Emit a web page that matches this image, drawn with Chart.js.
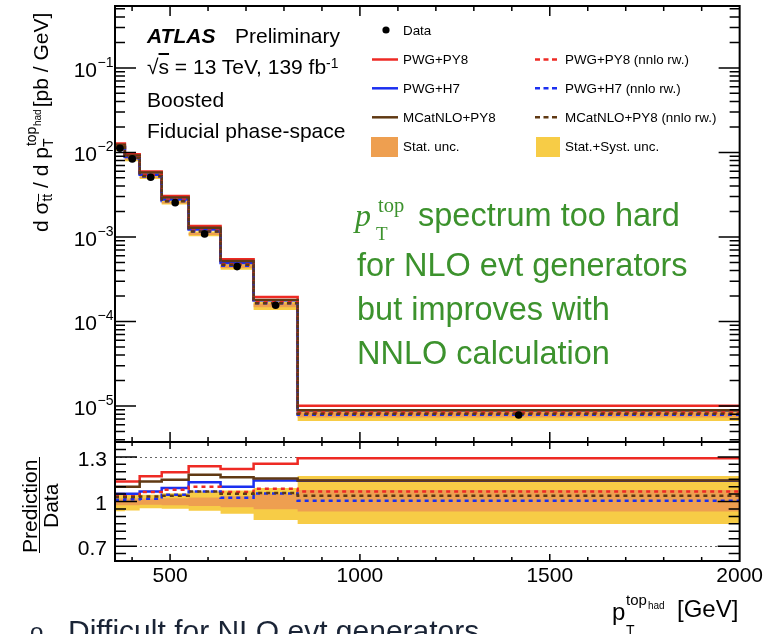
<!DOCTYPE html>
<html>
<head>
<meta charset="utf-8">
<script src="https://cdn.jsdelivr.net/npm/chart.js@4.4.1/dist/chart.umd.min.js"></script>
<style>
  html, body { margin: 0; padding: 0; background: #fff; overflow: hidden; }
  #wrap { position: relative; width: 766px; height: 634px; font-family: 'Liberation Sans', Arial, sans-serif; }
  #chart { position: absolute; left: 0; top: 0; }
  .t { position: absolute; white-space: nowrap; line-height: 1; color: #000; font-size: 21px; }
  .lg { position: absolute; white-space: nowrap; line-height: 1; color: #000; font-size: 13.4px; left: 403px; }
  .lg2 { left: 565px; }
  .g { position: absolute; white-space: nowrap; line-height: 1; color: #3c922d; font-size: 32.5px; }
  .sup { position: relative; font-size: 0.66em; }
  .rot { position: absolute; white-space: nowrap; line-height: 1; font-size: 21px; transform-origin: 0 0; transform: rotate(-90deg); }
  .ss { display: inline-block; position: relative; width: 34px; height: 21px; }
  .ss span { position: absolute; line-height: 1; }
  svg { position: absolute; left: 0; top: 0; }
</style>
</head>
<body>
<div id="wrap">
  <canvas id="chart" width="766" height="634"></canvas>

  <!-- ATLAS label -->
  <div class="t" style="left:147px;top:25px;font-weight:bold;font-style:italic">ATLAS</div>
  <div class="t" style="left:235px;top:25px">Preliminary</div>
  <div class="t" style="left:147px;top:56px">√<span style="text-decoration:overline">s</span> = 13 TeV, 139 fb<span class="sup" style="top:-0.45em">-1</span></div>
  <div class="t" style="left:147px;top:89px">Boosted</div>
  <div class="t" style="left:147px;top:120px">Fiducial phase-space</div>

  <!-- legend -->
  <svg width="766" height="170">
    <circle cx="386" cy="30" r="3.6" fill="#000"/>
    <line x1="372" x2="398" y1="59.5" y2="59.5" stroke="#ee2a24" stroke-width="2.5"/>
    <line x1="372" x2="398" y1="88.3" y2="88.3" stroke="#1b2ff0" stroke-width="2.5"/>
    <line x1="372" x2="398" y1="117.3" y2="117.3" stroke="#603913" stroke-width="2.5"/>
    <rect x="371" y="137" width="27" height="20" fill="#ee9f50"/>
    <line x1="535" x2="558" y1="59.5" y2="59.5" stroke="#ee2a24" stroke-width="2.5" stroke-dasharray="5 3.5"/>
    <line x1="535" x2="558" y1="88.3" y2="88.3" stroke="#1b2ff0" stroke-width="2.5" stroke-dasharray="5 3.5"/>
    <line x1="535" x2="558" y1="117.3" y2="117.3" stroke="#603913" stroke-width="2.5" stroke-dasharray="5 3.5"/>
    <rect x="536" y="137" width="24" height="20" fill="#f7cc46"/>
  </svg>
  <div class="lg" style="top:23.5px">Data</div>
  <div class="lg" style="top:53px">PWG+PY8</div>
  <div class="lg" style="top:82px">PWG+H7</div>
  <div class="lg" style="top:111px">MCatNLO+PY8</div>
  <div class="lg" style="top:140px">Stat. unc.</div>
  <div class="lg lg2" style="top:53px">PWG+PY8 (nnlo rw.)</div>
  <div class="lg lg2" style="top:82px">PWG+H7 (nnlo rw.)</div>
  <div class="lg lg2" style="top:111px">MCatNLO+PY8 (nnlo rw.)</div>
  <div class="lg lg2" style="top:140px">Stat.+Syst. unc.</div>

  <!-- green comment -->
  <div class="g" style="left:355px;top:199px;font-family:'Liberation Serif',serif;font-style:italic;font-size:32px">p</div>
  <div class="g" style="left:376px;top:224px;font-family:'Liberation Serif',serif;font-size:19px">T</div>
  <div class="g" style="left:378px;top:195px;font-family:'Liberation Serif',serif;font-size:20.5px">top</div>
  <div class="g" style="left:418px;top:199px">spectrum too hard</div>
  <div class="g" style="left:357px;top:249px">for NLO evt generators</div>
  <div class="g" style="left:357px;top:293px">but improves with</div>
  <div class="g" style="left:357px;top:337px">NNLO calculation</div>

  <!-- y axis titles -->
  <div class="rot" style="left:27px;top:232px">d σ<span class="sup" style="top:0.32em;text-decoration:overline">tt</span> / d p<span class="ss"><span style="left:0;top:14px;font-size:14px">T</span><span style="left:1px;top:-3px;font-size:14px">top</span><span style="left:21px;top:5.5px;font-size:10px">had</span></span> [pb / GeV]</div>
  <div class="rot" style="left:19px;top:553px">Prediction</div>
  <div class="rot" style="left:40px;top:528px">Data</div>
  <div style="position:absolute;left:38.5px;top:457px;width:1.6px;height:96px;background:#000"></div>

  <!-- x axis title -->
  <div class="t" style="left:612px;top:600px;font-size:24px">p</div>
  <div class="t" style="left:626px;top:623px;font-size:14px">T</div>
  <div class="t" style="left:626px;top:592px;font-size:15px">top</div>
  <div class="t" style="left:648px;top:600.5px;font-size:10px">had</div>
  <div class="t" style="left:677px;top:597px;font-size:24px">[GeV]</div>

  <!-- slide text below the figure -->
  <div class="t" style="left:30px;top:620px;font-size:24px;color:#1a2436">o</div>
  <div class="t" style="left:68px;top:616px;font-size:30px;color:#1a2436">Difficult for NLO evt generators</div>
</div>

<script>
// bin edges of the hadronic top pT (GeV)
const binEdges = [355, 381, 420, 478, 549, 633, 720, 836, 2000];
// measured cross-section [pb/GeV]
const dataVals = [0.01122, 0.00838, 0.00509, 0.002546, 0.001086, 0.000446, 0.0001556, 0.00000782];

// Prediction / Data
const ratioPwgPy8 = [1.135, 1.135, 1.169, 1.196, 1.237, 1.219, 1.253, 1.29];
const ratioPwgH7 = [1.052, 1.052, 1.068, 1.09, 1.129, 1.10, 1.142, 1.14];
const ratioMcPy8 = [1.10, 1.10, 1.135, 1.147, 1.18, 1.163, 1.154, 1.142];
const ratioPwgPy8Nnlo = [1.036, 1.036, 1.064, 1.079, 1.10, 1.064, 1.086, 1.068];
const ratioPwgH7Nnlo = [1.012, 1.015, 1.018, 1.045, 1.068, 1.025, 1.054, 1.005];
const ratioMcPy8Nnlo = [1.03, 1.03, 1.034, 1.038, 1.068, 1.052, 1.057, 1.038];

// relative uncertainty bands (lower / upper edge)
const statLo = [0.975, 0.975, 0.978, 0.975, 0.97, 0.962, 0.948, 0.932];
const statHi = [1.02, 1.02, 1.02, 1.022, 1.027, 1.035, 1.05, 1.078];
const totLo = [0.935, 0.94, 0.955, 0.952, 0.937, 0.917, 0.876, 0.849];
const totHi = [1.06, 1.045, 1.045, 1.056, 1.068, 1.074, 1.09, 1.172];

const xTickVals = [500, 1000, 1500, 2000];
const yDecades = [-1, -2, -3, -4, -5];
const ratioTickVals = [1.3, 1, 0.7];
const ratioTickLabels = ['1.3', '1', '0.7'];

const RED = '#ee2a24', BLUE = '#1b2ff0', BROWN = '#603913';
const ORANGE = '#ee9f50', YELLOW = '#f7cc46';

const centers = binEdges.slice(0, -1).map((e, i) => (e + binEdges[i + 1]) / 2);

// histogram as step points: value of bin i held from edge i to edge i+1
function steps(vals) {
    const pts = vals.map((v, i) => ({ x: binEdges[i], y: v }));
    pts.push({ x: binEdges[binEdges.length - 1], y: vals[vals.length - 1] });
    return pts;
}
function timesData(r) {
    return r.map((v, i) => v * dataVals[i]);
}

const series = [
    { r: ratioPwgPy8, color: RED, dash: [], order: 9 },
    { r: ratioPwgH7, color: BLUE, dash: [], order: 8 },
    { r: ratioMcPy8, color: BROWN, dash: [], order: 7 },
    { r: ratioPwgPy8Nnlo, color: RED, dash: [4, 4], order: 6 },
    { r: ratioPwgH7Nnlo, color: BLUE, dash: [4, 4], order: 5 },
    { r: ratioMcPy8Nnlo, color: BROWN, dash: [4, 4], order: 4 },
];

function band(axis, lo, hi, color, order) {
    const base = { yAxisID: axis, borderColor: 'rgba(0,0,0,0)', borderWidth: 0, pointRadius: 0, stepped: true, order };
    return [
        Object.assign({ data: steps(lo), fill: false }, base),
        Object.assign({ data: steps(hi), fill: '-1', backgroundColor: color }, base),
    ];
}
function lines(axis, upper) {
    return series.map(s => ({
        yAxisID: axis,
        data: steps(upper ? timesData(s.r) : s.r),
        borderColor: s.color,
        borderDash: s.dash,
        borderWidth: 2.5,
        pointRadius: 0,
        stepped: true,
        fill: false,
        order: s.order,
    }));
}

const datasets = [
    ...band('y', timesData(totLo), timesData(totHi), YELLOW, 20),
    ...band('y', timesData(statLo), timesData(statHi), ORANGE, 15),
    ...lines('y', true),
    {
        yAxisID: 'y',
        data: centers.map((x, i) => ({ x, y: dataVals[i] })),
        showLine: false,
        pointRadius: 3.8,
        pointBackgroundColor: '#000',
        pointBorderWidth: 0,
        order: 0,
    },
    ...band('yr', totLo, totHi, YELLOW, 20),
    ...band('yr', statLo, statHi, ORANGE, 15),
    ...lines('yr', false),
];

// ROOT-like frame: ticks inside on all sides, dotted ratio guides, y labels
const rootAxes = {
    id: 'rootAxes',
    beforeDatasetsDraw(chart) {
        const { ctx, scales: { x, yr } } = chart;
        ctx.save();
        ctx.strokeStyle = '#666';
        ctx.lineWidth = 1;
        ctx.setLineDash([2, 3]);
        [1.3, 0.7].forEach(v => {
            const py = Math.round(yr.getPixelForValue(v)) + 0.5;
            ctx.beginPath();
            ctx.moveTo(x.left, py);
            ctx.lineTo(x.right, py);
            ctx.stroke();
        });
        ctx.restore();
    },
    afterDatasetsDraw(chart) {
        const { ctx, scales: { x, y, yr } } = chart;
        ctx.save();
        ctx.strokeStyle = '#000';
        ctx.lineWidth = 1.5;
        ctx.beginPath();
        for (let v = 400; v < 2000; v += 100) {
            const px = x.getPixelForValue(v);
            const major = v % 500 === 0;
            const a = major ? 10 : 5;
            const b = major ? 7 : 4;
            ctx.moveTo(px, y.top); ctx.lineTo(px, y.top + a);
            ctx.moveTo(px, y.bottom); ctx.lineTo(px, y.bottom - a);
            ctx.moveTo(px, yr.top); ctx.lineTo(px, yr.top + b);
            ctx.moveTo(px, yr.bottom); ctx.lineTo(px, yr.bottom - b);
        }
        for (let e = -6; e <= 0; e++) {
            for (let m = 1; m <= 9; m++) {
                const v = m * Math.pow(10, e);
                if (v <= y.min || v >= y.max) continue;
                const py = y.getPixelForValue(v);
                const len = m === 1 ? 21 : 10;
                ctx.moveTo(x.left, py); ctx.lineTo(x.left + len, py);
                ctx.moveTo(x.right, py); ctx.lineTo(x.right - len, py);
            }
        }
        for (let k = 13; k <= 27; k++) {
            const py = yr.getPixelForValue(k * 0.05);
            const len = (k === 14 || k === 20 || k === 26) ? 22 : 11;
            ctx.moveTo(x.left, py); ctx.lineTo(x.left + len, py);
            ctx.moveTo(x.right, py); ctx.lineTo(x.right - len, py);
        }
        ctx.stroke();

        ctx.lineWidth = 2;
        ctx.strokeRect(x.left, y.top, x.right - x.left, yr.bottom - y.top);
        ctx.beginPath();
        ctx.moveTo(x.left, y.bottom);
        ctx.lineTo(x.right, y.bottom);
        ctx.stroke();

        // y tick labels
        ctx.fillStyle = '#000';
        ctx.textBaseline = 'middle';
        yDecades.forEach(e => {
            const py = y.getPixelForValue(Math.pow(10, e));
            ctx.font = '21px "Liberation Sans"';
            ctx.textAlign = 'right';
            ctx.fillText('10', 97, py + 3);
            ctx.font = '14px "Liberation Sans"';
            ctx.textAlign = 'left';
            ctx.fillText('\u2212' + Math.abs(e), 97.5, py - 5);
        });
        ctx.font = '21px "Liberation Sans"';
        ctx.textAlign = 'right';
        ratioTickVals.forEach((v, i) => {
            ctx.fillText(ratioTickLabels[i], 107, yr.getPixelForValue(v) + 3);
        });
        ctx.restore();
    },
};

const hiddenY = {
    grid: { display: false, drawTicks: false },
    border: { display: false },
    ticks: { display: false },
    position: 'left',
    stack: 'panels',
    afterFit: s => { s.width = 0; },
};

new Chart(document.getElementById('chart'), {
    type: 'line',
    data: { datasets },
    options: {
        responsive: false,
        animation: false,
        events: [],
        layout: { padding: { left: 115, right: 24, top: 6, bottom: 33 } },
        plugins: {
            legend: { display: false },
            tooltip: { enabled: false },
            filler: { drawTime: 'beforeDatasetsDraw' },
        },
        scales: {
            x: {
                type: 'linear',
                min: 355,
                max: 2000,
                grid: { display: false, drawTicks: false },
                border: { display: false },
                ticks: {
                    color: '#000',
                    font: { size: 21, family: 'Liberation Sans' },
                    padding: 3,
                    maxRotation: 0,
                    autoSkip: false,
                    callback: v => String(v),
                },
                afterBuildTicks: s => { s.ticks = xTickVals.map(v => ({ value: v })); },
                afterFit: s => { s.height = 40; },
            },
            y: Object.assign({}, hiddenY, {
                type: 'logarithmic',
                min: 3.75e-6,
                max: 0.54,
                stackWeight: 436,
                weight: 1,
            }),
            yr: Object.assign({}, hiddenY, {
                type: 'linear',
                min: 0.6,
                max: 1.4,
                stackWeight: 119,
                weight: 0,
            }),
        },
    },
    plugins: [rootAxes],
});
</script>
</body>
</html>
